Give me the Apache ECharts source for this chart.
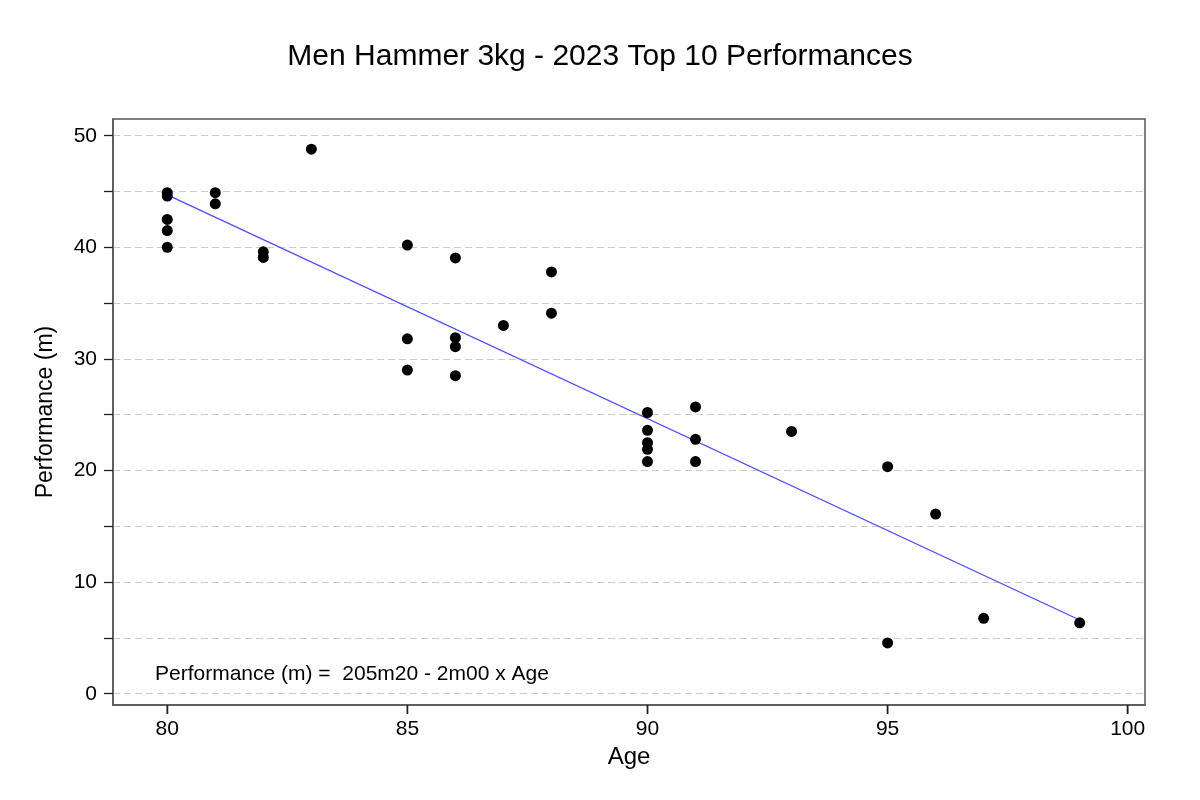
<!DOCTYPE html>
<html>
<head>
<meta charset="utf-8">
<script src="https://cdn.jsdelivr.net/npm/echarts@6/dist/echarts.min.js"></script>
<style>
html,body{margin:0;padding:0;background:#fff;}
#chart{width:1200px;height:800px;}
</style>
</head>
<body>
<div id="chart"></div>
<script>
const titleText = 'Men Hammer 3kg - 2023 Top 10 Performances';
const xAxisName = 'Age';
const yAxisName = 'Performance (m)';
const equationText = 'Performance (m) =  205m20 - 2m00 x Age';

const ages = [80,80,80,80,80,81,81,82,82,83,85,85,85,86,86,86,86,87,88,88,90,90,90,90,90,91,91,91,93,95,95,96,97,99];
const performances = [44.9,44.6,42.5,41.5,40.0,44.9,43.9,39.6,39.1,48.8,40.2,31.8,29.0,39.05,31.9,31.1,28.5,33.0,37.8,34.1,25.2,23.6,22.5,21.9,20.8,25.7,22.8,20.8,23.5,20.35,4.55,16.1,6.76,6.35];

const trendAges = [80, 99];
const trendValues = [44.7, 6.6];

const xTickLabels = [80, 85, 90, 95, 100];
const yTickLabels = [0, 10, 20, 30, 40, 50];
const yTicks = [0, 5, 10, 15, 20, 25, 30, 35, 40, 45, 50];

const points = ages.map((a, i) => [a, performances[i]]);
const trend = trendAges.map((a, i) => [a, trendValues[i]]);

const xMin = 78.87, xMax = 100.36, yMin = -1.01, yMax = 51.5;

const font = '"Liberation Sans", Arial, sans-serif';
const chart = echarts.init(document.getElementById('chart'), null, {renderer: 'canvas'});
chart.setOption({
  backgroundColor: '#ffffff',
  animation: false,
  title: {
    text: titleText,
    left: 'center',
    top: 37,
    textStyle: {fontFamily: font, fontSize: 30, fontWeight: 'normal', color: '#000'}
  },
  grid: {
    left: 113, right: 55, top: 119, bottom: 95,
    show: true, borderColor: '#555', borderWidth: 1.5, backgroundColor: 'transparent'
  },
  xAxis: [{
    type: 'value',
    min: xMin, max: xMax,
    name: xAxisName,
    nameLocation: 'middle',
    nameGap: 40,
    nameTextStyle: {fontFamily: font, fontSize: 24, color: '#000'},
    axisLine: {show: true, onZero: false, lineStyle: {color: '#555', width: 1.5}},
    axisTick: {show: true, length: 9, customValues: xTickLabels, lineStyle: {color: '#222', width: 1.3}},
    axisLabel: {customValues: xTickLabels, fontFamily: font, fontSize: 21, color: '#000', margin: 14},
    splitLine: {show: false}
  }, {
    type: 'value',
    position: 'bottom',
    offset: 0,
    min: xMin, max: xMax,
    axisLine: {show: false, onZero: false},
    axisTick: {show: true, inside: false, length: 9, customValues: xTickLabels, lineStyle: {color: '#222', width: 1.3}},
    axisLabel: {show: false},
    splitLine: {show: false}
  }],
  yAxis: {
    type: 'value',
    min: yMin, max: yMax,
    name: yAxisName,
    nameLocation: 'middle',
    nameGap: 56,
    nameTextStyle: {fontFamily: font, fontSize: 23, color: '#000'},
    axisLine: {show: true, lineStyle: {color: '#555', width: 1.5}},
    axisTick: {show: true, length: 9, customValues: yTicks, lineStyle: {color: '#222', width: 1.3}},
    axisLabel: {customValues: yTickLabels, fontFamily: font, fontSize: 21, color: '#000', margin: 16},
    splitLine: {show: true, lineStyle: {color: '#cccccc', width: 1, type: [7, 4]}}
  },
  series: [
    {
      type: 'line',
      xAxisIndex: 0,
      data: trend,
      showSymbol: false,
      symbol: 'none',
      lineStyle: {color: '#4b4bff', width: 1.2},
      z: 2
    },
    {
      type: 'scatter',
      xAxisIndex: 0,
      data: points,
      symbol: 'circle',
      symbolSize: 11,
      itemStyle: {color: '#000', opacity: 1},
      z: 3
    }
  ]
});

// x-axis tick marks placed through the chart's own scale (single-axis conversion)
const yBottom = chart.convertToPixel({yAxisIndex: 0}, yMin);
const tickEls = [];
xTickLabels.forEach((v, i) => {
  const px = chart.convertToPixel({xAxisIndex: 0}, v);
  if (isFinite(px) && isFinite(yBottom)) {
    tickEls.push({
      id: 'xt' + i,
      type: 'line',
      silent: true,
      z: 100,
      shape: {x1: px, y1: yBottom, x2: px, y2: yBottom + 9},
      style: {stroke: '#222', lineWidth: 1.3}
    });
  }
});
chart.setOption({
  graphic: [{
    id: 'eq',
    type: 'text',
    left: 155,
    top: 664,
    style: {text: equationText, font: '21px ' + font, fill: '#000'}
  }].concat(tickEls)
});
</script>
</body>
</html>
